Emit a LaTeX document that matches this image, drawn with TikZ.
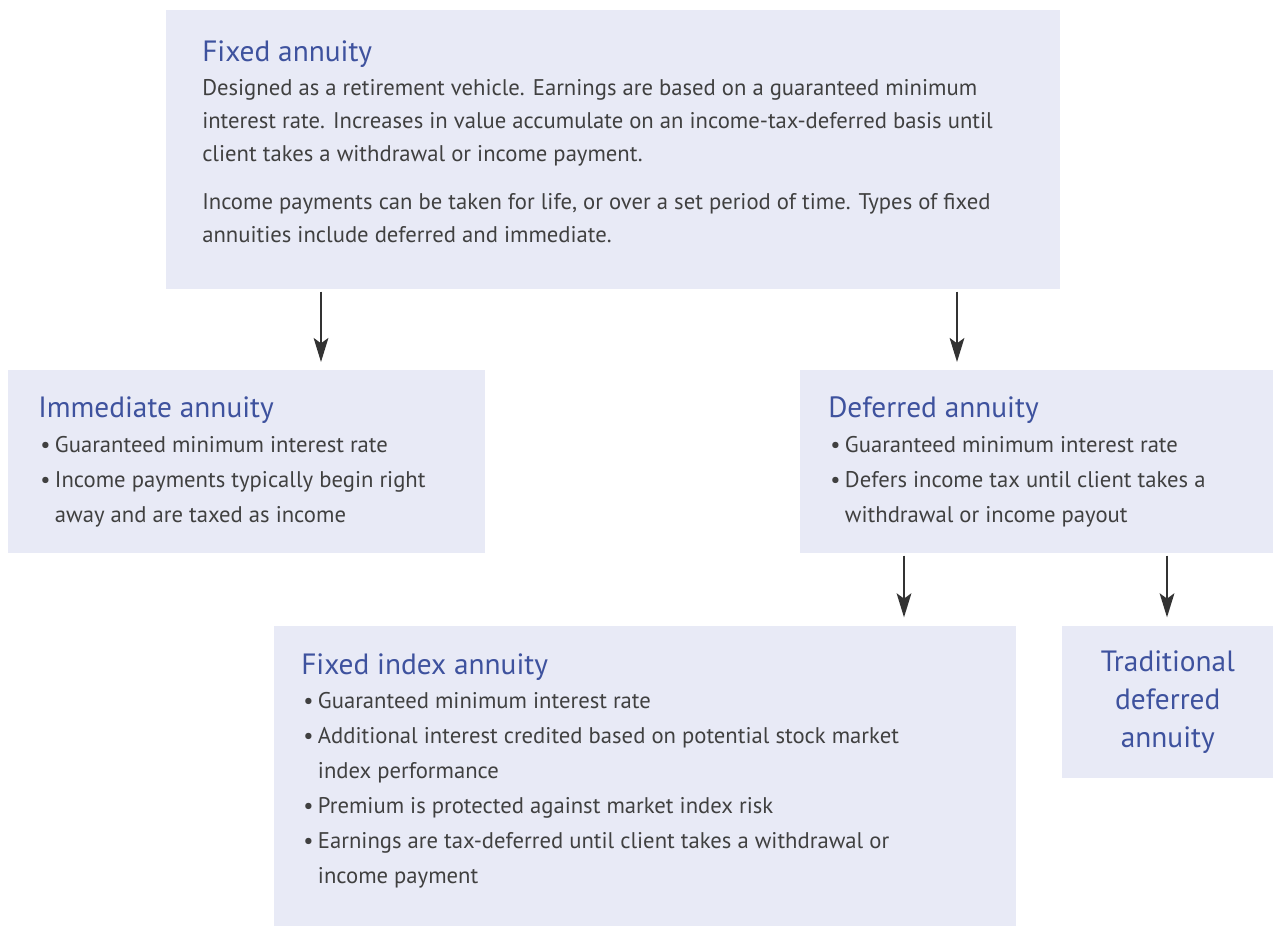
\documentclass[tikz,border=0pt]{standalone}
\usepackage{fontspec}
\setmainfont{PT Sans}
\usetikzlibrary{arrows.meta,positioning}

\definecolor{boxfill}{RGB}{232,234,246}
\definecolor{titleblue}{RGB}{62,82,158}
\definecolor{bodygray}{RGB}{64,64,64}
\definecolor{arrowgray}{RGB}{51,51,51}

\newcommand{\headfont}{\fontsize{22pt}{28.5pt}\selectfont}
\newcommand{\bodyfont}{\fontsize{17pt}{26.2pt}\selectfont}
\newcommand{\bl}{\makebox[11pt][l]{\textbullet}}
\newcommand{\bi}{\hspace*{11pt}}

\begin{document}
\begin{tikzpicture}[
    x=0.75pt, y=-0.75pt,
    box/.style={fill=boxfill, draw=none, inner sep=0pt, anchor=north west},
    head/.style={anchor=base west, inner sep=0pt, font=\headfont, text=titleblue},
    body/.style={anchor=north west, inner sep=0pt, align=left, font=\bodyfont, text=bodygray},
    arrow/.style={-{Stealth[length=18pt, width=11pt, inset=4pt]}, line width=1.7pt, draw=arrowgray}
  ]
    \useasboundingbox (0,0) rectangle (1273,927);

    % boxes
    \node[box, minimum width=670.5pt, minimum height=209.25pt] (fixed) at (166,10) {};
    \node[box, minimum width=357.75pt, minimum height=137.25pt] (imm) at (8,370) {};
    \node[box, minimum width=354.75pt, minimum height=137.25pt] (def) at (800,370) {};
    \node[box, minimum width=556.5pt, minimum height=225pt] (index) at (274,626) {};
    \node[box, minimum width=158.25pt, minimum height=114pt] (trad) at (1062,626) {};

    % texts
    \node[head] (fixedhead) at (202,62) {Fixed annuity};
    \node[body, font=\fontsize{17pt}{25pt}\selectfont] (fixedbody) at (202,79) {Designed as a retirement vehicle. Earnings are based on a guaranteed minimum\\
      interest rate. Increases in value accumulate on an income-tax-deferred basis until\\
      client takes a withdrawal or income payment.\\[10.5pt]
      Income payments can be taken for life, or over a set period of time. Types of fixed\\
      annuities include deferred and immediate.};

    \node[head] (immhead) at (38,417) {Immediate annuity};
    \node[body] (immbody) at (40,436) {\bl Guaranteed minimum interest rate\\
      \bl Income payments typically begin right\\
      \bi away and are taxed as income};

    \node[head] (defhead) at (828,417) {Deferred annuity};
    \node[body] (defbody) at (830,436) {\bl Guaranteed minimum interest rate\\
      \bl Defers income tax until client takes a\\
      \bi withdrawal or income payout};

    \node[head] (indexhead) at (301,674) {Fixed index annuity};
    \node[body] (indexbody) at (303,692) {\bl Guaranteed minimum interest rate\\
      \bl Additional interest credited based on potential stock market\\
      \bi index performance\\
      \bl Premium is protected against market index risk\\
      \bl Earnings are tax-deferred until client takes a withdrawal or\\
      \bi income payment};

    \node[align=center, inner sep=0pt, font=\headfont, text=titleblue] (tradtext) at (trad.center) {Traditional\\deferred\\annuity};

    % connectors
    \coordinate (immx) at (321,0);
    \coordinate (defx) at (957,0);
    \coordinate (indexx) at (904,0);
    \coordinate (tradx) at (1167,0);
    \draw[arrow, shorten <=1.5pt, shorten >=6pt] (fixed.south -| immx) -- (imm.north -| immx);
    \draw[arrow, shorten <=1.5pt, shorten >=6pt] (fixed.south -| defx) -- (def.north -| defx);
    \draw[arrow, shorten <=1.5pt, shorten >=6.5pt] (def.south -| indexx) -- (index.north -| indexx);
    \draw[arrow, shorten <=1.5pt, shorten >=6.5pt] (def.south -| tradx) -- (trad.north -| tradx);
  \end{tikzpicture}
\end{document}
